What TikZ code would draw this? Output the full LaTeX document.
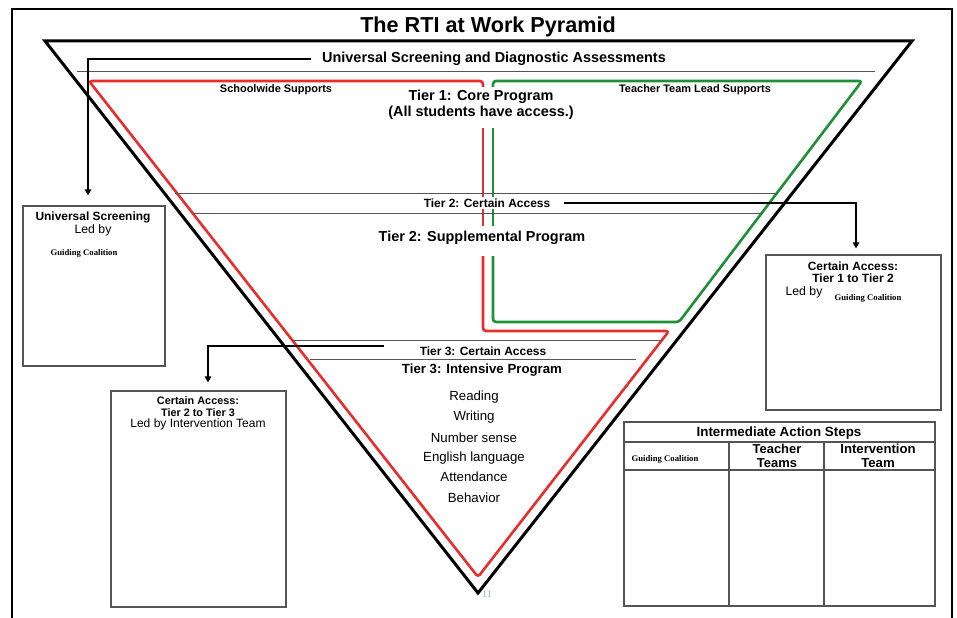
\documentclass[tikz,border=0pt]{standalone}
\usepackage{fontspec}
\setmainfont{Liberation Sans}
\newfontfamily\tnr{Liberation Serif}
\usetikzlibrary{arrows.meta}

\definecolor{rtired}{RGB}{232,45,45}
\definecolor{rtigreen}{RGB}{30,145,55}
\definecolor{rtigray}{RGB}{85,85,85}
\definecolor{pagenum}{RGB}{150,175,205}

\tikzset{
  fsb/.style 2 args={font=\fontsize{#1}{#2}\selectfont\bfseries, align=center, inner sep=1bp},
  fsn/.style 2 args={font=\fontsize{#1}{#2}\selectfont, align=center, inner sep=1bp},
  gc/.style={font=\tnr\fontsize{8.7}{10}\selectfont\bfseries, inner sep=1bp},
  boxframe/.style={draw=rtigray, line width=1.2bp, inner sep=0pt},
  thinline/.style={draw=rtigray, line width=0.9bp},
  redline/.style={draw=rtired, line width=2.6bp},
  greenline/.style={draw=rtigreen, line width=2.6bp},
  arr/.style={draw=black, line width=1.4bp, -{Triangle[width=6.5bp,length=6bp]}},
}

\begin{document}
\begin{tikzpicture}[x=1bp,y=-1bp]
\useasboundingbox (0,0) rectangle (957,618);
\fill[white] (0,0) rectangle (957,618);

% outer frame (open at the bottom)
\draw[line width=2.6bp] (12,640) -- (12,9) -- (952,9) -- (952,640);

% title
\node[fsb={21.7}{24}] (title) at (488,27) {The RTI at Work Pyramid};

% black pyramid
\draw[line width=3bp, line join=miter] (45,41) -- (912,41) -- (478,593) -- cycle;

% universal screening
\node[fsb={14.5}{16}] (usda) at (494,59) {Universal Screening and Diagnostic Assessments};
\draw[thinline] (77,71) -- (875,71);

% red and green supports
\draw[redline, rounded corners=3bp] (483,87) -- (483,81) -- (89,81) -- (478,577) -- (669,331) -- (483,331) -- (483,256);
\draw[redline] (483,128) -- (483,226);
\draw[greenline, rounded corners=3bp] (493,87) -- (493,81) -- (862,81) -- (679,322) -- (493,322) -- (493,256);
\draw[greenline] (493,128) -- (493,226);

\node[fsb={11}{12}] (sws) at (276,90) {Schoolwide Supports};
\node[fsb={11}{12}] (ttls) at (695,90) {Teacher Team Lead Supports};

\node[fsb={14.5}{16.5}] (t1) at (481,105) {Tier 1: Core Program\\(All students have access.)};

% tier 2
\draw[thinline] (175,193) -- (778,193);
\draw[thinline] (194,213) -- (763,213);
\node[fsb={12}{13}, fill=white, inner sep=2bp] (t2ca) at (487,203) {Tier 2: Certain Access};
\node[fsb={14.5}{16}] (t2sp) at (482,238) {Tier 2: Supplemental Program};

% tier 3
\draw[thinline] (293,340) -- (662,340);
\draw[thinline] (310,359) -- (636,359);
\node[fsb={12}{13}] (t3ca) at (483,351) {Tier 3: Certain Access};
\node[fsb={13.3}{15}] (t3ip) at (482,370) {Tier 3: Intensive Program};

\node[fsn={13.3}{15}] (rd) at (474,397) {Reading};
\node[fsn={13.3}{15}] (wr) at (474,417) {Writing};
\node[fsn={13.3}{15}] (ns) at (474,438) {Number sense};
\node[fsn={13.3}{15}] (el) at (474,458) {English language};
\node[fsn={13.3}{15}] (at) at (474,477) {Attendance};
\node[fsn={13.3}{15}] (bh) at (474,498) {Behavior};

\node[font=\tnr\fontsize{10}{10}\selectfont, text=pagenum, inner sep=0pt] (pg) at (487,594) {11};

% Universal Screening box
\node[boxframe, minimum width=142bp, minimum height=160bp] (usbox) at (94,286) {};
\node[fsb={12}{13}] (ust) at (93,217) {Universal Screening};
\node[fsn={12.3}{13}] (usl) at (93,230) {Led by};
\node[gc] (usg) at (84,253) {Guiding Coalition};

% Certain access tier 1 to tier 2 box
\node[boxframe, minimum width=175bp, minimum height=155bp] (ca12) at (853.5,332.5) {};
\node[fsb={12}{12.5}] (ca12t) at (853,272.5) {Certain Access:\\Tier 1 to Tier 2};
\node[fsn={12.3}{13}] (ca12l) at (804,292) {Led by};
\node[gc] (ca12g) at (868,298) {Guiding Coalition};

% Certain access tier 2 to tier 3 box
\node[boxframe, minimum width=175bp, minimum height=216bp] (ca23) at (198.5,499) {};
\node[fsb={10.9}{11.5}] (ca23t) at (198,406.5) {Certain Access:\\Tier 2 to Tier 3};
\node[fsn={12.1}{13}] (ca23l) at (198,424) {Led by Intervention Team};

% Intermediate action steps table
\node[boxframe, minimum width=311bp, minimum height=184bp] (tbl) at (779.5,514) {};
\draw[boxframe] (624,442) -- (935,442);
\draw[boxframe] (624,470) -- (935,470);
\draw[boxframe] (729,442) -- (729,606);
\draw[boxframe] (824,442) -- (824,606);
\node[fsb={13.4}{15}] (tblh) at (779,433) {Intermediate Action Steps};
\node[gc] (tgc) at (665,459) {Guiding Coalition};
\node[fsb={13}{13.5}] (ttt) at (777,456) {Teacher\\Teams};
\node[fsb={13.2}{13.5}] (tit) at (878,456) {Intervention\\Team};

% connectors
\draw[arr, shorten <=10bp, shorten >=10bp] (usda.west) -| ([xshift=-6bp]usbox.north);
\draw[arr, shorten <=12bp, shorten >=6bp] (t2ca.east) -| ([xshift=2.5bp]ca12.north);
\draw[arr, shorten <=35bp, shorten >=8bp] ([yshift=5bp]t3ca.west) -| ([xshift=9.5bp]ca23.north);
\end{tikzpicture}
\end{document}
